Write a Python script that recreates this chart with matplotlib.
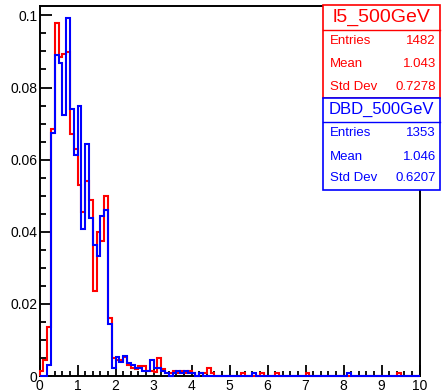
"""ROOT-style comparison: l5_500GeV vs DBD_500GeV normalised histograms"""
import numpy as np
import matplotlib
matplotlib.use('Agg')
from matplotlib import pyplot as plt
from matplotlib.patches import Rectangle
from matplotlib.lines import Line2D
from matplotlib.ticker import MultipleLocator, FuncFormatter

plt.rcParams['font.family'] = ['Liberation Sans', 'DejaVu Sans']

W, H = 442, 392

bin_edges = np.linspace(0, 10, 101)

# l5_500GeV (red), 100 bins of 0.1
red_vals = [
    0.0015, 0.0045, 0.0135, 0.0685, 0.0980, 0.0885, 0.0892, 0.0898, 0.0670, 0.0630,
    0.0529, 0.0454, 0.0542, 0.0489, 0.0237, 0.0400, 0.0375, 0.0500, 0.0160, 0.0049,
    0.0044, 0.0044, 0.0052, 0.0030, 0.0022, 0.0020, 0.0028, 0.0028, 0.0015, 0.0015,
    0.0012, 0.0050, 0.0020, 0.0007, 0.0007, 0.0014, 0.0007, 0.0014, 0.0007, 0.0014,
    0.0007, 0.0000, 0.0007, 0.0007, 0.0021, 0.0007, 0.0000, 0.0000, 0.0000, 0.0000,
    0.0000, 0.0000, 0.0000, 0.0007, 0.0000, 0.0000, 0.0000, 0.0000, 0.0007, 0.0000,
    0.0000, 0.0000, 0.0007, 0.0000, 0.0000, 0.0000, 0.0000, 0.0000, 0.0000, 0.0000,
    0.0007, 0.0000, 0.0000, 0.0000, 0.0000, 0.0000, 0.0000, 0.0000, 0.0000, 0.0000,
    0.0000, 0.0000, 0.0000, 0.0000, 0.0000, 0.0000, 0.0000, 0.0000, 0.0000, 0.0000,
    0.0000, 0.0000, 0.0000, 0.0000, 0.0007, 0.0000, 0.0000, 0.0000, 0.0000, 0.0000,
]

# DBD_500GeV (blue)
blue_vals = [
    0.0000, 0.0000, 0.0030, 0.0674, 0.0889, 0.0867, 0.0725, 0.0992, 0.0741, 0.0614,
    0.0748, 0.0407, 0.0644, 0.0438, 0.0362, 0.0333, 0.0444, 0.0460, 0.0145, 0.0022,
    0.0052, 0.0040, 0.0055, 0.0035, 0.0030, 0.0022, 0.0022, 0.0015, 0.0015, 0.0044,
    0.0022, 0.0022, 0.0015, 0.0007, 0.0000, 0.0007, 0.0015, 0.0007, 0.0015, 0.0007,
    0.0007, 0.0000, 0.0007, 0.0000, 0.0000, 0.0000, 0.0000, 0.0000, 0.0000, 0.0000,
    0.0000, 0.0000, 0.0000, 0.0000, 0.0000, 0.0000, 0.0007, 0.0000, 0.0000, 0.0000,
    0.0000, 0.0000, 0.0000, 0.0000, 0.0000, 0.0000, 0.0000, 0.0000, 0.0000, 0.0000,
    0.0000, 0.0000, 0.0000, 0.0000, 0.0000, 0.0000, 0.0000, 0.0000, 0.0000, 0.0000,
    0.0000, 0.0007, 0.0000, 0.0000, 0.0000, 0.0000, 0.0000, 0.0000, 0.0000, 0.0000,
    0.0000, 0.0000, 0.0000, 0.0000, 0.0000, 0.0000, 0.0000, 0.0000, 0.0000, 0.0000,
]

stat_names = ['Entries', 'Mean', 'Std Dev']
red_stats = ['1482', '1.043', '0.7278']
blue_stats = ['1353', '1.046', '0.6207']


def px(x, y):
    return x / W, 1 - y / H


def stats_box(fig, title, values, color, top, sep, bottom, title_size, rows_y):
    x0, x1 = 323, 440
    l, b = px(x0, bottom)
    r, t = px(x1, top)
    fig.add_artist(Rectangle((l, b), r - l, t - b, transform=fig.transFigure,
                             facecolor='white', edgecolor=color, lw=1.2, zorder=10))
    fig.add_artist(Line2D([l, r], [px(0, sep)[1]] * 2, transform=fig.transFigure,
                          color=color, lw=1.0, zorder=11))
    fig.text(*px((x0 + x1) / 2, (top + sep) / 2), title, color=color, fontsize=title_size,
             ha='center', va='center', zorder=12)
    for name, val, yy in zip(stat_names, values, rows_y):
        fig.text(*px(330, yy), name, color=color, fontsize=9.5, ha='left', va='center', zorder=12)
        fig.text(*px(436, yy), val, color=color, fontsize=9.5, ha='right', va='center', zorder=12)


fig = plt.figure(figsize=(W / 100, H / 100), dpi=100)
ax = fig.add_axes([39.5 / W, 1 - 376 / H, 380 / W, 370 / H])

ax.stairs(red_vals, bin_edges, color='red', lw=1.5, clip_on=False, zorder=3)
ax.stairs(blue_vals, bin_edges, color='blue', lw=1.5, clip_on=False, zorder=4)

ax.set_xlim(0, 10)
ax.set_ylim(0, 0.1026)
ax.xaxis.set_major_locator(MultipleLocator(1))
ax.xaxis.set_minor_locator(MultipleLocator(0.2))
ax.yaxis.set_major_locator(MultipleLocator(0.02))
ax.yaxis.set_minor_locator(MultipleLocator(0.005))
ax.yaxis.set_major_formatter(FuncFormatter(lambda v, p: f'{v:g}'))
ax.tick_params(which='both', direction='in', top=False, right=False, labelsize=10, width=1.3)
ax.tick_params(axis='x', which='major', length=8, pad=2.5)
ax.tick_params(axis='x', which='minor', length=3.5)
ax.tick_params(axis='y', which='major', length=8.5, pad=1.5)
ax.tick_params(axis='y', which='minor', length=4.3)
for sp in ax.spines.values():
    sp.set_linewidth(1.4)

stats_box(fig, 'l5_500GeV', red_stats, 'red', 5, 30, 97.5, 14, [41, 64, 86.5])
stats_box(fig, 'DBD_500GeV', blue_stats, 'blue', 97.5, 121.7, 190, 12, [132.5, 156.5, 178])

plt.savefig('out.png', dpi=100)
plt.close(fig)
